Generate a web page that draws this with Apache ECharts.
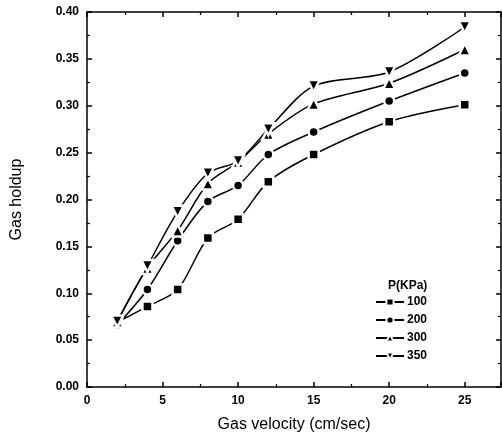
<!DOCTYPE html>
<html>
<head>
<meta charset="utf-8">
<script src="https://cdn.jsdelivr.net/npm/echarts@6/dist/echarts.min.js"></script>
<style>
  html, body { margin: 0; padding: 0; background: #fff; }
  #chart { width: 502px; height: 443px; }
</style>
</head>
<body>
<div id="chart"></div>
<script>
var velocity = [2, 4, 6, 8, 10, 12, 15, 20, 25];
var p100 = [0.069, 0.086, 0.104, 0.159, 0.179, 0.219, 0.248, 0.283, 0.301];
var p200 = [0.066, 0.104, 0.156, 0.198, 0.215, 0.248, 0.272, 0.305, 0.335];
var p300 = [0.070, 0.127, 0.167, 0.217, 0.240, 0.270, 0.302, 0.324, 0.360];
var p350 = [0.070, 0.129, 0.187, 0.228, 0.241, 0.275, 0.321, 0.336, 0.384];
var pressures = ['100', '200', '300', '350'];

function pairs(ys) {
  return velocity.map(function (x, i) { return [x, ys[i]]; });
}

function mkSeries(name, ys, symbol, size, rotate) {
  return {
    name: name,
    type: 'line',
    smooth: 0.3,
    data: pairs(ys),
    symbol: symbol,
    symbolSize: size,
    symbolRotate: rotate || 0,
    showAllSymbol: true,
    lineStyle: { color: '#000', width: 1.5 },
    itemStyle: { color: '#000', borderColor: '#fff', borderWidth: 2.5 },
    z: 3
  };
}

var axisFont = { fontFamily: 'Liberation Sans', fontWeight: 'bold', fontSize: 12, color: '#000' };

function frameAxis(pos, max, interval) {
  return {
    type: 'value',
    position: pos,
    min: 0,
    max: max,
    interval: interval,
    axisLine: { onZero: false, lineStyle: { color: '#000', width: 1.5 } },
    axisTick: { inside: true, length: 5, lineStyle: { color: '#000', width: 1.5 } },
    minorTick: { show: true, splitNumber: 2, length: 3, lineStyle: { color: '#000', width: 1.2 } },
    axisLabel: { show: false },
    splitLine: { show: false }
  };
}

var option = {
  backgroundColor: '#fff',
  animation: false,
  title: {
    text: 'P(KPa)',
    left: 383,
    top: 275,
    textStyle: { fontFamily: 'Liberation Sans', fontWeight: 'bold', fontSize: 12, color: '#000' }
  },
  legend: {
    orient: 'vertical',
    left: 370,
    top: 291,
    itemWidth: 28,
    itemHeight: 9,
    itemGap: 6,
    data: pressures,
    textStyle: { fontFamily: 'Liberation Sans', fontWeight: 'bold', fontSize: 12, color: '#000', padding: [0, 0, 0, -2] }
  },
  grid: { left: 87, right: 1, top: 12, bottom: 56 },
  xAxis: [
    {
      type: 'value',
      min: 0,
      max: 27.4,
      interval: 5,
      name: 'Gas velocity (cm/sec)',
      nameLocation: 'middle',
      nameGap: 30,
      nameTextStyle: { fontFamily: 'Liberation Sans', fontSize: 16, color: '#000' },
      axisLine: { onZero: false, lineStyle: { color: '#000', width: 1.5 } },
      axisTick: { inside: true, length: 5, lineStyle: { color: '#000', width: 1.5 } },
      minorTick: { show: true, splitNumber: 2, length: 3, lineStyle: { color: '#000', width: 1.2 } },
      axisLabel: Object.assign({ margin: 8, showMaxLabel: false }, axisFont),
      splitLine: { show: false }
    },
    frameAxis('top', 27.4, 5)
  ],
  yAxis: [
    {
      type: 'value',
      min: 0,
      max: 0.4,
      interval: 0.05,
      name: 'Gas holdup',
      nameLocation: 'middle',
      nameGap: 62,
      nameTextStyle: { fontFamily: 'Liberation Sans', fontSize: 16, color: '#000' },
      axisLine: { onZero: false, lineStyle: { color: '#000', width: 1.5 } },
      axisTick: { inside: true, length: 5, lineStyle: { color: '#000', width: 1.5 } },
      minorTick: { show: true, splitNumber: 2, length: 3, lineStyle: { color: '#000', width: 1.2 } },
      axisLabel: Object.assign({
        margin: 8,
        formatter: function (v) { return v.toFixed(2); }
      }, axisFont),
      splitLine: { show: false }
    },
    frameAxis('right', 0.4, 0.05)
  ],
  series: [
    mkSeries('100', p100, 'rect', 10),
    mkSeries('200', p200, 'circle', 10),
    mkSeries('300', p300, 'triangle', 12),
    mkSeries('350', p350, 'triangle', 12, 180)
  ]
};

var myChart = echarts.init(document.getElementById('chart'));
myChart.setOption(option, true);
</script>
</body>
</html>
